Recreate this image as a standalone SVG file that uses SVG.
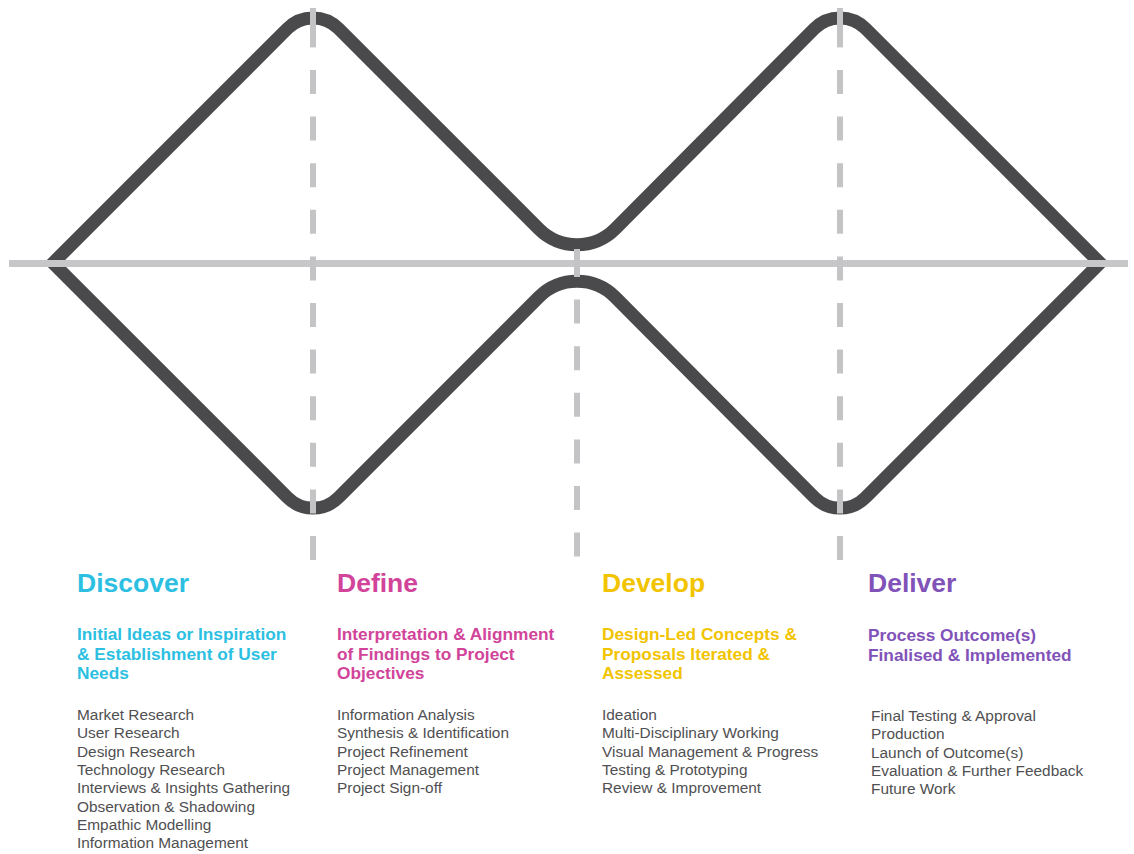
<svg xmlns="http://www.w3.org/2000/svg" width="1134" height="854" viewBox="0 0 1134 854">
<style>
.outline{fill:none;stroke:#4a4a4c;stroke-width:13;stroke-linejoin:miter;stroke-miterlimit:10}
.axis{stroke:#c7c7c9;stroke-width:7}
.guide{stroke:#c4c4c6;stroke-width:6;fill:none}
.dash{stroke-dasharray:24 22.6}
.h{font-family:"Liberation Sans",Arial,sans-serif;font-weight:bold;font-size:26.5px}
.s{font-family:"Liberation Sans",Arial,sans-serif;font-weight:bold;font-size:17.3px}
.b{font-family:"Liberation Sans",Arial,sans-serif;font-size:15.4px;fill:#505052}
.c1{fill:#2cbfe2}.c2{fill:#d1449a}.c3{fill:#f2c400}.c4{fill:#8152b8}
</style>
<rect width="1134" height="854" fill="#ffffff"/>
<g id="double-diamond">
<path class="outline" d="M 53 263 L 287.5 28.5 A 36 36 0 0 1 338.5 28.5 L 538.8 228.8 A 54 54 0 0 0 615.2 228.8 L 814.5 28.5 A 36 36 0 0 1 865.5 28.5 L 1100 263 L 865.5 497.5 A 36 36 0 0 1 814.5 497.5 L 615.2 297.2 A 54 54 0 0 0 538.8 297.2 L 338.5 497.5 A 36 36 0 0 1 287.5 497.5 Z"/>
</g>
<g id="connectors">
<line class="axis" x1="9" y1="263.5" x2="1128" y2="263.5"/>
<line class="guide" x1="313" y1="8" x2="313" y2="47.4"/>
<line class="guide dash" x1="313" y1="70" x2="313" y2="560"/>
<line class="guide" x1="840" y1="8" x2="840" y2="47.4"/>
<line class="guide dash" x1="840" y1="70" x2="840" y2="560"/>
<line class="guide" x1="577" y1="249" x2="577" y2="253"/>
<line class="guide dash" x1="577" y1="253" x2="577" y2="560"/>
</g>
<g id="discover">
<text class="h c1" x="77" y="592">Discover</text>
<text class="s c1" x="77" y="640">Initial Ideas or Inspiration</text>
<text class="s c1" x="77" y="659.5">&amp; Establishment of User</text>
<text class="s c1" x="77" y="679">Needs</text>
<text class="b" x="77" y="720">Market Research</text>
<text class="b" x="77" y="738.3">User Research</text>
<text class="b" x="77" y="756.6">Design Research</text>
<text class="b" x="77" y="774.9">Technology Research</text>
<text class="b" x="77" y="793.2">Interviews &amp; Insights Gathering</text>
<text class="b" x="77" y="811.5">Observation &amp; Shadowing</text>
<text class="b" x="77" y="829.8">Empathic Modelling</text>
<text class="b" x="77" y="848.1">Information Management</text>
</g>
<g id="define">
<text class="h c2" x="337" y="592">Define</text>
<text class="s c2" x="337" y="640">Interpretation &amp; Alignment</text>
<text class="s c2" x="337" y="659.5">of Findings to Project</text>
<text class="s c2" x="337" y="679">Objectives</text>
<text class="b" x="337" y="720">Information Analysis</text>
<text class="b" x="337" y="738.3">Synthesis &amp; Identification</text>
<text class="b" x="337" y="756.6">Project Refinement</text>
<text class="b" x="337" y="774.9">Project Management</text>
<text class="b" x="337" y="793.2">Project Sign-off</text>
</g>
<g id="develop">
<text class="h c3" x="602" y="592">Develop</text>
<text class="s c3" x="602" y="640">Design-Led Concepts &amp;</text>
<text class="s c3" x="602" y="659.5">Proposals Iterated &amp;</text>
<text class="s c3" x="602" y="679">Assessed</text>
<text class="b" x="602" y="720">Ideation</text>
<text class="b" x="602" y="738.3">Multi-Disciplinary Working</text>
<text class="b" x="602" y="756.6">Visual Management &amp; Progress</text>
<text class="b" x="602" y="774.9">Testing &amp; Prototyping</text>
<text class="b" x="602" y="793.2">Review &amp; Improvement</text>
</g>
<g id="deliver">
<text class="h c4" x="868" y="592">Deliver</text>
<text class="s c4" x="868" y="641">Process Outcome(s)</text>
<text class="s c4" x="868" y="660.5">Finalised &amp; Implemented</text>
<text class="b" x="871" y="721">Final Testing &amp; Approval</text>
<text class="b" x="871" y="739.3">Production</text>
<text class="b" x="871" y="757.6">Launch of Outcome(s)</text>
<text class="b" x="871" y="775.9">Evaluation &amp; Further Feedback</text>
<text class="b" x="871" y="794.2">Future Work</text>
</g>
</svg>
